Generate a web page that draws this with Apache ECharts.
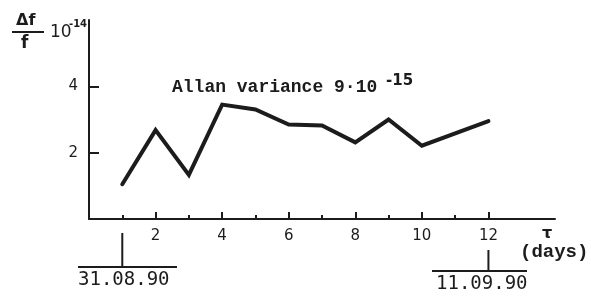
<!DOCTYPE html>
<html>
<head>
<meta charset="utf-8">
<script src="https://cdn.jsdelivr.net/npm/echarts@6/dist/echarts.min.js"></script>
<style>
    html, body { margin: 0; padding: 0; background: #fff; }
    #chart { width: 591px; height: 296px; }
</style>
</head>
<body>
<div id="chart"></div>
<script>
// averaging time tau (days) and Allan deviation (units of 1e-14)
var tauDays = [1, 2, 3, 4, 5, 6, 7, 8, 9, 10, 12];
var deltaF = [1.05, 2.68, 1.33, 3.45, 3.3, 2.85, 2.82, 2.31, 3.0, 2.21, 2.95];
var xMajorTicks = [2, 4, 6, 8, 10, 12];
var xMinorTicks = [1, 3, 5, 7, 9, 11];
var yTicks = [2, 4];
var startDay = 1, startDate = '31.08.90';
var endDay = 12, endDate = '11.09.90';

var ink = '#1c1c1c';
var mono = '"Liberation Mono", "DejaVu Sans Mono", monospace';
var sans = '"DejaVu Sans", sans-serif';

var chart = echarts.init(document.getElementById('chart'));

function seriesData () {
    var out = [];
    for (var i = 0; i < tauDays.length; i++) {
        out.push([tauDays[i], deltaF[i]]);
    }
    return out;
}

var option = {
    backgroundColor: '#fff',
    animation: false,
    grid: { left: 89, right: 36, top: 20, bottom: 77 },
    xAxis: [
        {
            type: 'value',
            min: 0,
            max: 14,
            axisLine: { show: true, lineStyle: { color: ink, width: 2 } },
            axisTick: { show: true, inside: true, length: 7, customValues: xMajorTicks, lineStyle: { color: ink, width: 2 } },
            axisLabel: { customValues: xMajorTicks, margin: 10, color: ink, fontFamily: sans, fontSize: 15 },
            splitLine: { show: false }
        },
        {
            type: 'value',
            position: 'bottom',
            min: 0,
            max: 14,
            axisLine: { show: false },
            axisTick: { show: true, inside: true, length: 4, customValues: xMinorTicks, lineStyle: { color: ink, width: 2 } },
            axisLabel: { show: false },
            splitLine: { show: false }
        }
    ],
    yAxis: {
        type: 'value',
        min: 0,
        max: 6,
        axisLine: { show: true, lineStyle: { color: ink, width: 2 } },
        axisTick: { show: true, inside: true, length: 10, customValues: yTicks, lineStyle: { color: ink, width: 2 } },
        axisLabel: { customValues: yTicks, margin: 11, color: ink, fontFamily: sans, fontSize: 15 },
        splitLine: { show: false }
    },
    series: [
        {
            type: 'line',
            xAxisIndex: 0,
            data: seriesData(),
            symbol: 'none',
            lineStyle: { color: ink, width: 4, cap: 'round', join: 'miter' }
        }
    ]
};
chart.setOption(option);

// date markers under the axis, placed through the axis scale
var p0 = chart.convertToPixel({ xAxisIndex: 0 }, startDay);
var p1 = chart.convertToPixel({ xAxisIndex: 0 }, endDay);
var lineStyle = { stroke: ink, lineWidth: 2 };

chart.setOption({
    graphic: [
        // y axis title: delta f / f  10^-14
        { type: 'text', left: 16, top: 13, style: { text: 'Δf', font: 'bold 16px ' + sans, fill: ink } },
        { type: 'line', shape: { x1: 12, y1: 32, x2: 44, y2: 32 }, style: lineStyle },
        { type: 'text', left: 21, top: 35, style: { text: 'f', font: 'bold 17px ' + sans, fill: ink } },
        { type: 'text', left: 50, top: 24, style: { text: '10', font: '17px ' + sans, fill: ink } },
        { type: 'text', left: 69, top: 19, style: { text: '-14', font: 'bold 10px ' + sans, fill: ink } },
        // annotation
        { type: 'text', left: 172, top: 78, style: { text: 'Allan variance 9·10', font: 'bold 18px ' + mono, fill: ink } },
        { type: 'text', left: 386, top: 74, style: { text: '-15', font: 'bold 15px ' + sans, fill: ink } },
        // tau (days)
        { type: 'text', left: 542, top: 226, style: { text: 'τ', font: 'bold 16px ' + sans, fill: ink } },
        { type: 'text', left: 520, top: 243, style: { text: '(days)', font: 'bold 19px ' + mono, fill: ink } },
        // start date
        { type: 'line', shape: { x1: p0, y1: 233, x2: p0, y2: 267 }, style: lineStyle },
        { type: 'line', shape: { x1: 78, y1: 267, x2: 177, y2: 267 }, style: lineStyle },
        { type: 'text', left: 78, top: 271, style: { text: startDate, font: '19px "DejaVu Sans Mono", monospace', fill: ink } },
        // end date
        { type: 'line', shape: { x1: p1, y1: 250, x2: p1, y2: 271 }, style: lineStyle },
        { type: 'line', shape: { x1: 432, y1: 271, x2: 527, y2: 271 }, style: lineStyle },
        { type: 'text', left: 436, top: 275, style: { text: endDate, font: '19px "DejaVu Sans Mono", monospace', fill: ink } }
    ]
});
</script>
</body>
</html>
